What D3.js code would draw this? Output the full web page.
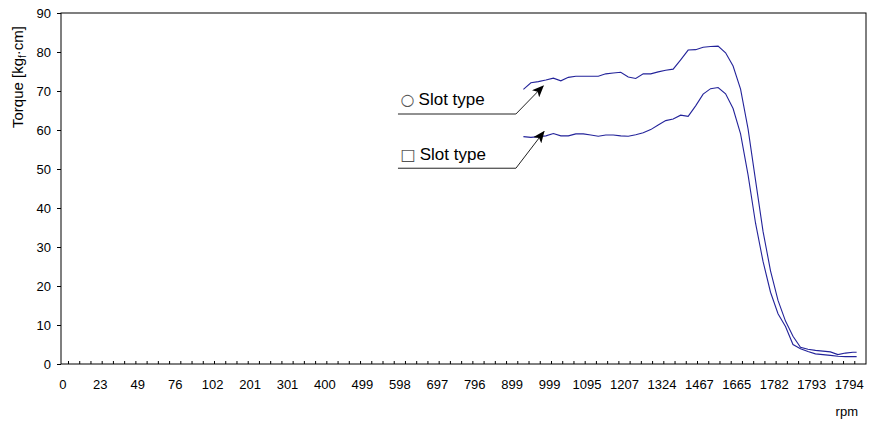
<!DOCTYPE html>
<html>
<head>
<meta charset="utf-8">
<script src="https://cdn.jsdelivr.net/npm/d3@7"></script>
<style>
body{margin:0;background:#ffffff;}
text{font-family:"Liberation Sans",Arial,"DejaVu Sans",sans-serif;fill:#000;}
</style>
</head>
<body>
<svg id="chart" width="872" height="423"></svg>
<script>
// rpm labels shown on the axis (every 10th category)
var rpmLabels=[0,23,49,76,102,201,301,400,499,598,697,796,899,999,1095,1207,1324,1467,1665,1782,1793,1794];
var numCategories=215;
var labelStep=10;
var tickStep=3;
var tickStart=2;

var yTicks=[0,10,20,30,40,50,60,70,80,90];

// category index of every measured point
var pointIdx=[123,125,127,129,131,133,135,137,139,141,143,145,147,149,151,153,155,157,159,161,163,165,167,169,171,173,175,177,179,181,183,185,187,189,191,193,195,197,199,201,203,205,207,209,211,212];

// torque, kgf.cm
var circleTorque=[70.4,72.1,72.4,72.8,73.3,72.6,73.5,73.8,73.8,73.8,73.8,74.4,74.6,74.8,73.6,73.2,74.4,74.4,74.9,75.3,75.6,78.0,80.5,80.6,81.2,81.4,81.5,79.8,76.4,70.5,60.3,47.1,34.0,23.9,16.3,11.0,7.1,4.3,3.8,3.5,3.3,3.1,2.4,2.8,3.0,3.0];
var squareTorque=[58.3,58.1,58.3,58.5,59.1,58.5,58.5,59.0,59.0,58.7,58.4,58.7,58.7,58.5,58.4,58.8,59.3,60.1,61.3,62.4,62.8,63.8,63.5,66.2,69.2,70.6,70.9,69.3,65.5,59.0,48.5,36.1,26.3,18.4,12.9,9.6,5.0,3.9,3.2,2.6,2.4,2.2,2.0,1.9,1.9,1.9];

// callouts: symbol, label, underline (from, to, torque), arrow tip (category, torque)
var calloutSymbol=["\u25CB","\u25A1"];
var calloutText=["Slot type","Slot type"];
var calloutLine=[[90,121.5,64.1],[90,121.5,50.2]];
var calloutTip=[[128.8,71.3],[129.0,59.6]];
var calloutLabel=[[90.7,66.3],[90.7,52.4]];

var margin={left:61,top:13,right:6,bottom:59};
var width=872-margin.left-margin.right;
var height=423-margin.top-margin.bottom;

var svg=d3.select("#chart");

svg.append("defs").append("marker")
    .attr("id","arrow")
    .attr("markerUnits","userSpaceOnUse")
    .attr("viewBox","0 0 12 10")
    .attr("refX",11)
    .attr("refY",5)
    .attr("markerWidth",12)
    .attr("markerHeight",10)
    .attr("orient","auto")
    .append("path")
    .attr("d","M0,0 L12,5 L0,10 L3,5 Z")
    .attr("fill","#000");

var g=svg.append("g").attr("transform","translate("+margin.left+","+margin.top+")");

var x=d3.scaleLinear().domain([0,numCategories]).range([0,width]);
var y=d3.scaleLinear().domain([0,90]).range([height,0]);

// y axis
var yAxis=g.append("g")
    .call(d3.axisLeft(y).tickValues(yTicks).tickSize(4).tickPadding(6));
yAxis.select(".domain").remove();
yAxis.selectAll("line").attr("stroke","#000");
yAxis.selectAll("text").style("font-size","13px").style("font-family","Liberation Sans, Arial, sans-serif");

// x axis: tick marks inside every 3 categories, labels every 10
var tickPos=[];
for(var t=tickStart;t<numCategories;t+=tickStep){ tickPos.push(t); }

g.selectAll(".xtick").data(tickPos).enter().append("line")
    .attr("class","xtick")
    .attr("x1",function(d){return x(d);})
    .attr("x2",function(d){return x(d);})
    .attr("y1",height)
    .attr("y2",height-3)
    .attr("stroke","#000");

g.selectAll(".xlab").data(rpmLabels).enter().append("text")
    .attr("class","xlab")
    .attr("x",function(d,i){return x(i*labelStep+0.5);})
    .attr("y",height+25)
    .attr("text-anchor","middle")
    .style("font-size","13px")
    .text(function(d){return d;});

// frame
g.append("rect")
    .attr("x",0).attr("y",0)
    .attr("width",width).attr("height",height)
    .attr("fill","none")
    .attr("stroke","#000")
    .attr("stroke-width",1);

// series
var line=d3.line()
    .x(function(d){return x(d[0]+0.5);})
    .y(function(d){return y(d[1]);});

[circleTorque,squareTorque].forEach(function(s){
    g.append("path")
        .datum(pointIdx.map(function(p,i){return [p,s[i]];}))
        .attr("d",line)
        .attr("fill","none")
        .attr("stroke","#23239a")
        .attr("stroke-width",1.1);
});

// callouts
for(var c=0;c<calloutText.length;c++){
    g.append("path")
        .attr("d","M"+x(calloutLine[c][0])+","+y(calloutLine[c][2])+
                  " L"+x(calloutLine[c][1])+","+y(calloutLine[c][2])+
                  " L"+x(calloutTip[c][0])+","+y(calloutTip[c][1]))
        .attr("fill","none")
        .attr("stroke","#222")
        .attr("stroke-width",1)
        .attr("marker-end","url(#arrow)");

    var lab=g.append("text")
        .attr("x",x(calloutLabel[c][0]))
        .attr("y",y(calloutLabel[c][1]))
        .style("font-size","17px");
    lab.append("tspan")
        .style("font-family","DejaVu Sans")
        .style("font-size","16px")
        .style("fill","#555")
        .text(calloutSymbol[c]);
    lab.append("tspan")
        .attr("dx",4)
        .text(calloutText[c]);
}

// axis titles
svg.append("text")
    .attr("x",858)
    .attr("y",416)
    .attr("text-anchor","end")
    .style("font-size","13px")
    .text("rpm");

var yt=svg.append("text")
    .attr("transform","translate(23,77) rotate(-90)")
    .attr("text-anchor","middle")
    .style("font-size","15px");
yt.append("tspan").text("Torque [kg");
yt.append("tspan").attr("dy",3).style("font-size","10px").text("f");
yt.append("tspan").attr("dy",-3).text("\u00B7cm]");
</script>
</body>
</html>
